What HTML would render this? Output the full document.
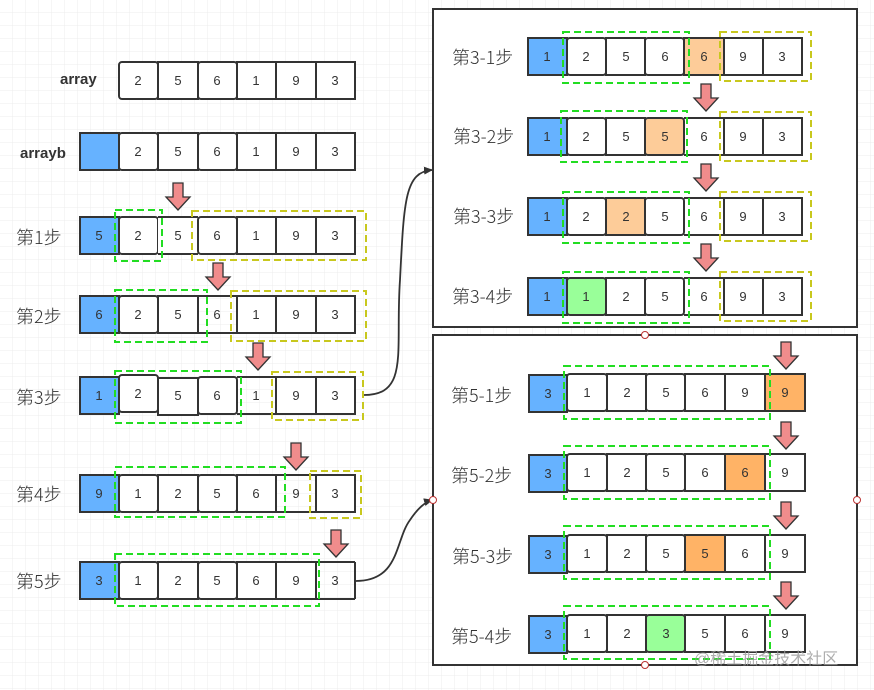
<!DOCTYPE html>
<html><head><meta charset="utf-8"><style>
html,body{margin:0;padding:0;background:#fff}
svg{display:block}
text{font-family:"Liberation Sans","Noto Sans CJK SC",sans-serif;fill:#333}
.n{font-size:13px;text-anchor:middle}
.l{font-size:18px;fill:#333;font-family:"Noto Sans CJK SC",sans-serif;font-weight:300}
.b{font-size:15px;font-weight:bold;fill:#333}
</style></head><body>
<svg width="874" height="690" viewBox="0 0 874 690" xmlns="http://www.w3.org/2000/svg">
<defs>
<pattern id="g" width="13" height="13" patternUnits="userSpaceOnUse"><path d="M13 0V13H0" fill="none" stroke="#ececec" stroke-width="1"/></pattern>
<g id="ar"><path d="M-5 0H5V14H12L0 27L-12 14H-5Z" fill="#f08c8c" stroke="#333" stroke-width="1.3"/></g>
<marker id="mk" markerWidth="10" markerHeight="10" refX="8" refY="5" orient="auto" markerUnits="userSpaceOnUse"><path d="M0 1L9 5L0 9Z" fill="#333"/></marker>
</defs>
<rect width="874" height="690" fill="url(#g)"/>
<g id="cells" stroke="#333" stroke-width="2" fill="#fff">
<rect x="119" y="62" width="39" height="37" rx="3"/><rect x="158" y="62" width="40" height="37"/><rect x="198" y="62" width="39" height="37" rx="3"/><rect x="237" y="62" width="39" height="37"/><rect x="276" y="62" width="40" height="37"/><rect x="316" y="62" width="39" height="37"/>
<rect x="80" y="133" width="39" height="37" fill="#66b2ff"/><rect x="119" y="133" width="39" height="37" rx="3"/><rect x="158" y="133" width="40" height="37"/><rect x="198" y="133" width="39" height="37" rx="3"/><rect x="237" y="133" width="39" height="37"/><rect x="276" y="133" width="40" height="37"/><rect x="316" y="133" width="39" height="37"/>
<rect x="80" y="217" width="39" height="37" fill="#66b2ff"/><rect x="119" y="217" width="39" height="37" rx="3"/><rect x="158" y="217" width="40" height="37" stroke="none"/><rect x="198" y="217" width="39" height="37" rx="3"/><rect x="237" y="217" width="39" height="37"/><rect x="276" y="217" width="40" height="37"/><rect x="316" y="217" width="39" height="37"/>
<line x1="158" y1="217" x2="198" y2="217"/><line x1="158" y1="254" x2="198" y2="254"/>
<rect x="80" y="296" width="39" height="37" fill="#66b2ff"/><rect x="119" y="296" width="39" height="37" rx="3"/><rect x="158" y="296" width="40" height="37"/><line x1="198" y1="296" x2="237" y2="296"/><line x1="198" y1="333" x2="237" y2="333"/><rect x="237" y="296" width="39" height="37"/><rect x="276" y="296" width="40" height="37"/><rect x="316" y="296" width="39" height="37"/>
<rect x="80" y="377" width="39" height="37" fill="#66b2ff"/><rect x="119" y="375" width="39" height="37" rx="3"/><rect x="158" y="378" width="40" height="37"/><rect x="198" y="377" width="39" height="37" rx="3"/><line x1="237" y1="377" x2="276" y2="377"/><line x1="237" y1="414" x2="276" y2="414"/><rect x="276" y="377" width="40" height="37"/><rect x="316" y="377" width="39" height="37"/>
<rect x="80" y="475" width="39" height="37" fill="#66b2ff"/><rect x="119" y="475" width="39" height="37" rx="3"/><rect x="158" y="475" width="40" height="37"/><rect x="198" y="475" width="39" height="37" rx="3"/><rect x="237" y="475" width="39" height="37"/><line x1="276" y1="475" x2="316" y2="475"/><line x1="276" y1="512" x2="316" y2="512"/><rect x="316" y="475" width="39" height="37"/>
<rect x="80" y="562" width="39" height="37" fill="#66b2ff"/><rect x="119" y="562" width="39" height="37" rx="3"/><rect x="158" y="562" width="40" height="37"/><rect x="198" y="562" width="39" height="37" rx="3"/><rect x="237" y="562" width="39" height="37"/><rect x="276" y="562" width="40" height="37"/><line x1="316" y1="562" x2="355" y2="562"/><line x1="316" y1="599" x2="355" y2="599"/><line x1="355" y1="562" x2="355" y2="599"/>
</g>
<g>
<text class="b" x="60" y="84">array</text>
<text class="b" x="20" y="158">arrayb</text>
<text class="l" x="16" y="244">第1步</text>
<text class="l" x="16" y="323">第2步</text>
<text class="l" x="16" y="404">第3步</text>
<text class="l" x="16" y="501">第4步</text>
<text class="l" x="16" y="588">第5步</text>
</g>
<g>
<text class="n" x="138" y="85">2</text><text class="n" x="178" y="85">5</text><text class="n" x="217" y="85">6</text><text class="n" x="256" y="85">1</text><text class="n" x="296" y="85">9</text><text class="n" x="335" y="85">3</text>
<text class="n" x="138" y="156">2</text><text class="n" x="178" y="156">5</text><text class="n" x="217" y="156">6</text><text class="n" x="256" y="156">1</text><text class="n" x="296" y="156">9</text><text class="n" x="335" y="156">3</text>
<text class="n" x="99" y="240">5</text><text class="n" x="138" y="240">2</text><text class="n" x="178" y="240">5</text><text class="n" x="217" y="240">6</text><text class="n" x="256" y="240">1</text><text class="n" x="296" y="240">9</text><text class="n" x="335" y="240">3</text>
<text class="n" x="99" y="319">6</text><text class="n" x="138" y="319">2</text><text class="n" x="178" y="319">5</text><text class="n" x="217" y="319">6</text><text class="n" x="256" y="319">1</text><text class="n" x="296" y="319">9</text><text class="n" x="335" y="319">3</text>
<text class="n" x="99" y="400">1</text><text class="n" x="138" y="398">2</text><text class="n" x="178" y="400">5</text><text class="n" x="217" y="400">6</text><text class="n" x="256" y="400">1</text><text class="n" x="296" y="400">9</text><text class="n" x="335" y="400">3</text>
<text class="n" x="99" y="498">9</text><text class="n" x="138" y="498">1</text><text class="n" x="178" y="498">2</text><text class="n" x="217" y="498">5</text><text class="n" x="256" y="498">6</text><text class="n" x="296" y="498">9</text><text class="n" x="335" y="498">3</text>
<text class="n" x="99" y="585">3</text><text class="n" x="138" y="585">1</text><text class="n" x="178" y="585">2</text><text class="n" x="217" y="585">5</text><text class="n" x="256" y="585">6</text><text class="n" x="296" y="585">9</text><text class="n" x="335" y="585">3</text>
</g>
<g fill="none" stroke-width="2" stroke-dasharray="7,4">
<rect x="115" y="210" width="47" height="51" stroke="#22dd22"/><rect x="192" y="211" width="174" height="49" stroke="#c8c81e"/>
<rect x="115" y="290" width="92" height="52" stroke="#22dd22"/><rect x="231" y="291" width="135" height="50" stroke="#c8c81e"/>
<rect x="115" y="371" width="126" height="52" stroke="#22dd22"/><rect x="272" y="372" width="91" height="48" stroke="#c8c81e"/>
<rect x="115" y="467" width="170" height="50" stroke="#22dd22"/><rect x="310" y="471" width="51" height="47" stroke="#c8c81e"/>
<rect x="115" y="554" width="204" height="52" stroke="#22dd22"/>
</g>
<use href="#ar" x="178" y="183"/><use href="#ar" x="218" y="263"/><use href="#ar" x="258" y="343"/><use href="#ar" x="296" y="443"/><use href="#ar" x="336" y="530"/>
<path d="M364 395C410 395 395 350 400 280C404 200 405 172 432 170" fill="none" stroke="#333" stroke-width="1.8" marker-end="url(#mk)"/>
<path d="M356 581C400 581 395 540 410 520C418 508 425 502 432 500" fill="none" stroke="#333" stroke-width="1.8" marker-end="url(#mk)"/>
<rect x="433" y="9" width="424" height="318" fill="#fff" stroke="#333" stroke-width="2"/>
<rect x="433" y="335" width="424" height="330" fill="#fff" stroke="#333" stroke-width="2"/>
<g fill="#fff" stroke="#b33" stroke-width="1"><circle cx="645" cy="335" r="3.5"/><circle cx="645" cy="665" r="3.5"/><circle cx="433" cy="500" r="3.5"/><circle cx="857" cy="500" r="3.5"/></g>
<g stroke="#333" stroke-width="2" fill="#fff">
<rect x="528" y="38" width="39" height="37" fill="#66b2ff"/><rect x="567" y="38" width="39" height="37" rx="3"/><rect x="606" y="38" width="39" height="37"/><rect x="645" y="38" width="39" height="37" rx="3"/><rect x="684" y="38" width="40" height="37" fill="#fdcc99"/><rect x="724" y="38" width="39" height="37"/><rect x="763" y="38" width="39" height="37"/>
<rect x="528" y="118" width="39" height="37" fill="#66b2ff"/><rect x="567" y="118" width="39" height="37" rx="3"/><rect x="606" y="118" width="39" height="37"/><rect x="645" y="118" width="39" height="37" rx="3" fill="#fdcc99"/><line x1="684" y1="118" x2="724" y2="118"/><line x1="684" y1="155" x2="724" y2="155"/><rect x="724" y="118" width="39" height="37"/><rect x="763" y="118" width="39" height="37"/>
<rect x="528" y="198" width="39" height="37" fill="#66b2ff"/><rect x="567" y="198" width="39" height="37" rx="3"/><rect x="606" y="198" width="39" height="37" fill="#fdcc99"/><rect x="645" y="198" width="39" height="37" rx="3"/><line x1="684" y1="198" x2="724" y2="198"/><line x1="684" y1="235" x2="724" y2="235"/><rect x="724" y="198" width="39" height="37"/><rect x="763" y="198" width="39" height="37"/>
<rect x="528" y="278" width="39" height="37" fill="#66b2ff"/><rect x="567" y="278" width="39" height="37" rx="3" fill="#99ff99"/><rect x="606" y="278" width="39" height="37"/><rect x="645" y="278" width="39" height="37" rx="3"/><line x1="684" y1="278" x2="724" y2="278"/><line x1="684" y1="315" x2="724" y2="315"/><rect x="724" y="278" width="39" height="37"/><rect x="763" y="278" width="39" height="37"/>
</g>
<g>
<text class="l" x="452" y="64">第3-1步</text><text class="l" x="453" y="143">第3-2步</text><text class="l" x="453" y="223">第3-3步</text><text class="l" x="452" y="303">第3-4步</text>
<text class="n" x="547" y="61">1</text><text class="n" x="586" y="61">2</text><text class="n" x="626" y="61">5</text><text class="n" x="665" y="61">6</text><text class="n" x="704" y="61">6</text><text class="n" x="743" y="61">9</text><text class="n" x="782" y="61">3</text>
<text class="n" x="547" y="141">1</text><text class="n" x="586" y="141">2</text><text class="n" x="626" y="141">5</text><text class="n" x="665" y="141">5</text><text class="n" x="704" y="141">6</text><text class="n" x="743" y="141">9</text><text class="n" x="782" y="141">3</text>
<text class="n" x="547" y="221">1</text><text class="n" x="586" y="221">2</text><text class="n" x="626" y="221">2</text><text class="n" x="665" y="221">5</text><text class="n" x="704" y="221">6</text><text class="n" x="743" y="221">9</text><text class="n" x="782" y="221">3</text>
<text class="n" x="547" y="301">1</text><text class="n" x="586" y="301">1</text><text class="n" x="626" y="301">2</text><text class="n" x="665" y="301">5</text><text class="n" x="704" y="301">6</text><text class="n" x="743" y="301">9</text><text class="n" x="782" y="301">3</text>
</g>
<g fill="none" stroke-width="2" stroke-dasharray="7,4">
<rect x="563" y="32" width="126" height="51" stroke="#22dd22"/><rect x="720" y="32" width="91" height="49" stroke="#c8c81e"/>
<rect x="561" y="111" width="126" height="51" stroke="#22dd22"/><rect x="720" y="112" width="91" height="49" stroke="#c8c81e"/>
<rect x="563" y="192" width="126" height="51" stroke="#22dd22"/><rect x="720" y="192" width="91" height="49" stroke="#c8c81e"/>
<rect x="563" y="272" width="126" height="51" stroke="#22dd22"/><rect x="720" y="272" width="91" height="49" stroke="#c8c81e"/>
</g>
<use href="#ar" x="706" y="84"/><use href="#ar" x="706" y="164"/><use href="#ar" x="706" y="244"/>
<g stroke="#333" stroke-width="2" fill="#fff">
<rect x="529" y="375" width="38" height="37" fill="#66b2ff"/><rect x="567" y="374" width="40" height="37" rx="3"/><rect x="607" y="374" width="39" height="37"/><rect x="646" y="374" width="39" height="37" rx="3"/><rect x="685" y="374" width="40" height="37"/><rect x="725" y="374" width="40" height="37"/><rect x="765" y="374" width="40" height="37" fill="#ffb366"/>
<rect x="529" y="455" width="38" height="37" fill="#66b2ff"/><rect x="567" y="454" width="40" height="37" rx="3"/><rect x="607" y="454" width="39" height="37"/><rect x="646" y="454" width="39" height="37" rx="3"/><rect x="685" y="454" width="40" height="37"/><rect x="725" y="454" width="40" height="37" fill="#ffb366"/><rect x="765" y="454" width="40" height="37"/>
<rect x="529" y="536" width="38" height="37" fill="#66b2ff"/><rect x="567" y="535" width="40" height="37" rx="3"/><rect x="607" y="535" width="39" height="37"/><rect x="646" y="535" width="39" height="37" rx="3"/><rect x="685" y="535" width="40" height="37" fill="#ffb366"/><rect x="725" y="535" width="40" height="37"/><rect x="765" y="535" width="40" height="37"/>
<rect x="529" y="616" width="38" height="37" fill="#66b2ff"/><rect x="567" y="615" width="40" height="37" rx="3"/><rect x="607" y="615" width="39" height="37"/><rect x="646" y="615" width="39" height="37" rx="3" fill="#99ff99"/><rect x="685" y="615" width="40" height="37"/><rect x="725" y="615" width="40" height="37"/><rect x="765" y="615" width="40" height="37"/>
</g>
<g>
<text class="l" x="451" y="402">第5-1步</text><text class="l" x="451" y="482">第5-2步</text><text class="l" x="452" y="563">第5-3步</text><text class="l" x="451" y="643">第5-4步</text>
<text class="n" x="548" y="398">3</text><text class="n" x="587" y="397">1</text><text class="n" x="627" y="397">2</text><text class="n" x="666" y="397">5</text><text class="n" x="705" y="397">6</text><text class="n" x="745" y="397">9</text><text class="n" x="785" y="397">9</text>
<text class="n" x="548" y="478">3</text><text class="n" x="587" y="477">1</text><text class="n" x="627" y="477">2</text><text class="n" x="666" y="477">5</text><text class="n" x="705" y="477">6</text><text class="n" x="745" y="477">6</text><text class="n" x="785" y="477">9</text>
<text class="n" x="548" y="559">3</text><text class="n" x="587" y="558">1</text><text class="n" x="627" y="558">2</text><text class="n" x="666" y="558">5</text><text class="n" x="705" y="558">5</text><text class="n" x="745" y="558">6</text><text class="n" x="785" y="558">9</text>
<text class="n" x="548" y="639">3</text><text class="n" x="587" y="638">1</text><text class="n" x="627" y="638">2</text><text class="n" x="666" y="638">3</text><text class="n" x="705" y="638">5</text><text class="n" x="745" y="638">6</text><text class="n" x="785" y="638">9</text>
</g>
<g fill="none" stroke-width="2" stroke-dasharray="7,4" stroke="#22dd22">
<rect x="564" y="366" width="206" height="53"/><rect x="564" y="446" width="206" height="53"/><rect x="564" y="526" width="206" height="53"/><rect x="564" y="606" width="206" height="53"/>
</g>
<use href="#ar" x="786" y="342"/><use href="#ar" x="786" y="422"/><use href="#ar" x="786" y="502"/><use href="#ar" x="786" y="582"/>
<text x="694" y="664" style="font-size:16px;fill:#999;opacity:0.8">@稀土掘金技术社区</text>
</svg>
</body></html>
